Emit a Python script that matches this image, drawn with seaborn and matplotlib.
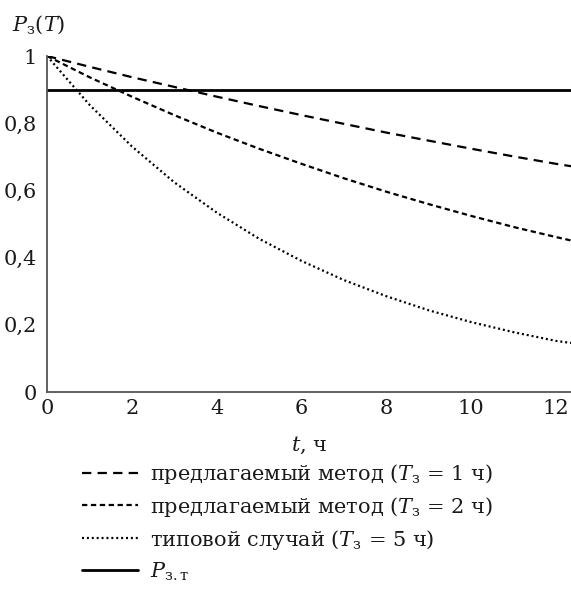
import matplotlib
matplotlib.use('Agg')
import matplotlib.pyplot as plt
import seaborn as sns

# readings from the reference chart
t_hours = [0, 1, 2, 3, 4, 5, 6, 7, 8, 9, 10, 11, 12, 12.35]
p_t1 = [1.0, 0.968, 0.937, 0.908, 0.879, 0.851, 0.824, 0.798, 0.772, 0.748, 0.724, 0.701, 0.679, 0.672]
p_t2 = [1.0, 0.937, 0.879, 0.824, 0.772, 0.724, 0.679, 0.636, 0.596, 0.559, 0.524, 0.491, 0.461, 0.451]
p_t5 = [1.0, 0.855, 0.731, 0.624, 0.534, 0.456, 0.390, 0.333, 0.285, 0.243, 0.208, 0.178, 0.152, 0.146]
p_zt = 0.9

x_ticks = [0, 2, 4, 6, 8, 10, 12]
y_ticks = [0, 0.2, 0.4, 0.6, 0.8, 1.0]
y_tick_labels = ['0', '0,2', '0,4', '0,6', '0,8', '1']

labels = [r'предлагаемый метод ($T_{\mathregular{з}}$ = 1 ч)',
          r'предлагаемый метод ($T_{\mathregular{з}}$ = 2 ч)',
          r'типовой случай ($T_{\mathregular{з}}$ = 5 ч)',
          r'$P_{\mathregular{з.т}}$']

sns.set_style('white')
plt.rcParams['font.family'] = 'DejaVu Serif'
plt.rcParams['mathtext.fontset'] = 'dejavuserif'
plt.rcParams['text.color'] = '#1a1a1a'
plt.rcParams['xtick.color'] = '#1a1a1a'
plt.rcParams['ytick.color'] = '#1a1a1a'

fs = 15

fig = plt.figure(figsize=(5.71, 6.06), dpi=100)
ax = fig.add_axes([47 / 571, 214 / 606, 524 / 571, 336 / 606])

lw = 1.6
styles = [(0, (4.2, 2.8)), (0, (2.4, 1.6)), (0, (0.9, 1.3))]
handles = []
for vals, ls in zip([p_t1, p_t2, p_t5], styles):
    sns.lineplot(x=t_hours, y=vals, ax=ax, color='black', lw=lw, linestyle=ls)
    handles.append(ax.lines[-1])
handles.append(ax.axhline(p_zt, color='black', lw=2))

ax.set_xlim(0, t_hours[-1])
ax.set_ylim(0, 1)
ax.set_xticks(x_ticks)
ax.set_yticks(y_ticks)
ax.set_yticklabels(y_tick_labels)
ax.tick_params(length=0, labelsize=fs)
ax.tick_params(axis='x', pad=5)
ax.tick_params(axis='y', pad=7)
for side in ['top', 'right']:
    ax.spines[side].set_visible(False)
for side in ['left', 'bottom']:
    ax.spines[side].set_color('#555555')
    ax.spines[side].set_linewidth(1.3)
ax.set_xlabel('')
ax.set_ylabel('')

fig.text(12 / 571, 1 - 25 / 606, r'$P_{\mathregular{з}}(T)$', fontsize=fs, va='center', ha='left')
fig.text(309 / 571, 1 - 445 / 606, r'$t$, ч', fontsize=fs, va='center', ha='center')

fig.legend(handles, labels, loc='upper left', bbox_to_anchor=(82 / 571, 1 - 462 / 606),
           frameon=False, fontsize=fs, handlelength=2.7, handletextpad=0.55,
           labelspacing=0.42, borderpad=0, borderaxespad=0)

plt.savefig('out.png', dpi=100)
